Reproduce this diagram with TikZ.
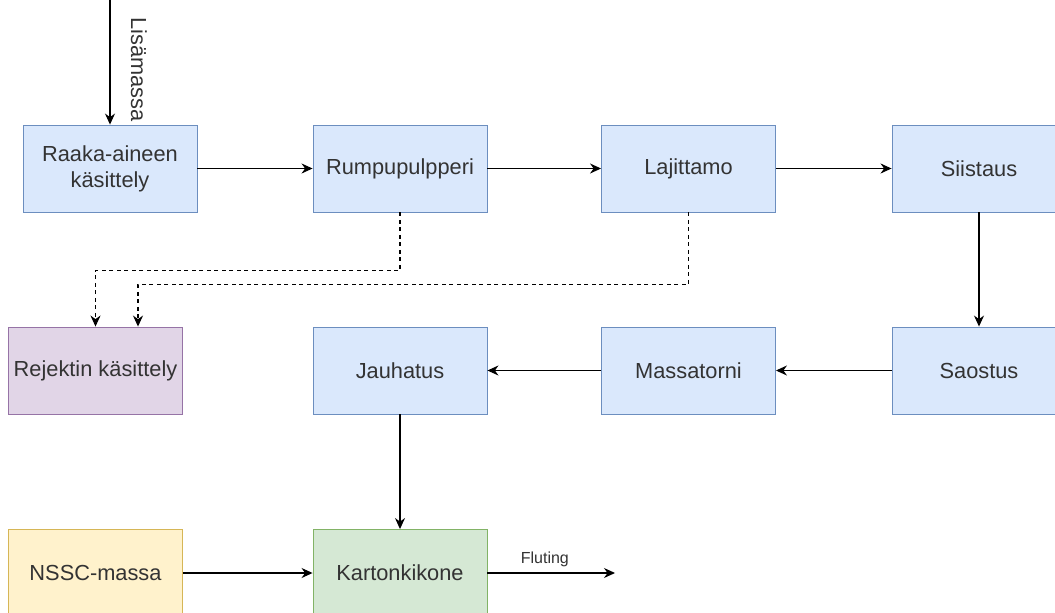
\documentclass[tikz,border=0pt]{standalone}
\usepackage{fontspec}
\setmainfont{Liberation Sans}
\usetikzlibrary{arrows.meta,positioning,calc}
\definecolor{blueFill}{HTML}{DAE8FC}
\definecolor{blueLine}{HTML}{6C8EBF}
\definecolor{purpleFill}{HTML}{E1D5E7}
\definecolor{purpleLine}{HTML}{9673A6}
\definecolor{yellowFill}{HTML}{FFF2CC}
\definecolor{yellowLine}{HTML}{D6B656}
\definecolor{greenFill}{HTML}{D5E8D4}
\definecolor{greenLine}{HTML}{82B366}
\definecolor{textgray}{HTML}{333333}

\begin{document}
\begin{tikzpicture}[x=1pt, y=-1pt,
  box/.style={draw, line width=0.9pt, minimum width=174pt, minimum height=87pt, inner sep=2pt,
    align=center, text=textgray, font=\fontsize{21.8}{26}\selectfont},
  process/.style={box, fill=blueFill, draw=blueLine},
  flow/.style={-{Stealth[length=11pt, width=10pt]}, line width=1.1pt},
  reject/.style={flow, dash pattern=on 4pt off 3.5pt}]
  \useasboundingbox (0,0) rectangle (1055,613);
  % upper row
  \node[process] (raaka) at (110,168.5) {Raaka-aineen\\käsittely};
  \node[process] (rumpu) at (400,168.5) {Rumpupulpperi};
  \node[process] (lajit) at (688.5,168.5) {Lajittamo};
  \node[process] (siist) at (979,168.5) {Siistaus};
  % middle row
  \node[box, fill=purpleFill, draw=purpleLine] (rejekti) at (95.5,370.5) {Rejektin käsittely};
  \node[process] (jauh) at (400,370.5) {Jauhatus};
  \node[process] (torni) at (688.5,370.5) {Massatorni};
  \node[process] (saost) at (979,370.5) {Saostus};
  % lower row
  \node[box, fill=yellowFill, draw=yellowLine] (nssc) at (95.5,573) {NSSC-massa};
  \node[box, fill=greenFill, draw=greenLine] (kone) at (400,573) {Kartonkikone};
  \coordinate (lisa) at (110,0);
  \coordinate (ulos) at (615,573);

  \draw[flow] (lisa) -- node[right=17pt, pos=0.56, rotate=-90, anchor=south, text=textgray, font=\fontsize{21.8}{26}\selectfont] {Lisämassa} (raaka);
  \draw[flow] (raaka) -- (rumpu);
  \draw[flow] (rumpu) -- (lajit);
  \draw[flow] (lajit) -- (siist);
  \draw[flow] (siist) -- (saost);
  \draw[flow] (saost) -- (torni);
  \draw[flow] (torni) -- (jauh);
  \draw[flow] (jauh) -- (kone);
  \draw[flow] (nssc) -- (kone);
  \draw[flow] (kone) -- node[above=2pt, pos=0.45, text=textgray, font=\fontsize{16}{19}\selectfont] {Fluting} (ulos);
  % reject lines
  \draw[reject] (rumpu.south) -- ++(0,58) -| (rejekti.north);
  \draw[reject] (lajit.south) -- ++(0,72) -| ([xshift=42.5pt]rejekti.north);
\end{tikzpicture}
\end{document}
